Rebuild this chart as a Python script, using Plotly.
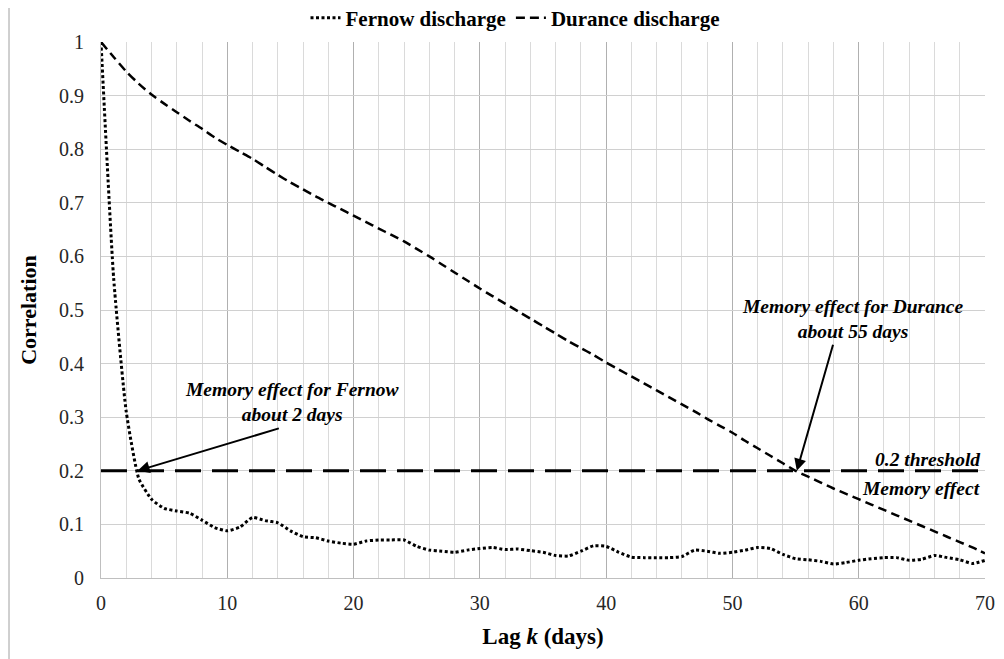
import plotly.graph_objects as go

lags = list(range(0, 71))
fernow = [1.0, 0.56, 0.31, 0.185, 0.147, 0.13, 0.125, 0.121, 0.108, 0.094,
          0.088, 0.095, 0.113, 0.107, 0.103, 0.088, 0.077, 0.075, 0.069, 0.065,
          0.063, 0.069, 0.071, 0.071, 0.071, 0.059, 0.052, 0.05, 0.048, 0.052,
          0.055, 0.057, 0.053, 0.054, 0.051, 0.048, 0.042, 0.041, 0.05, 0.06,
          0.059, 0.048, 0.039, 0.038, 0.038, 0.038, 0.04, 0.052, 0.05, 0.046,
          0.048, 0.052, 0.057, 0.055, 0.044, 0.036, 0.034, 0.031, 0.026, 0.029,
          0.033, 0.036, 0.038, 0.038, 0.033, 0.035, 0.042, 0.038, 0.034, 0.027,
          0.033]
durance = [1.0, 0.972, 0.945, 0.922, 0.902, 0.885, 0.869, 0.853, 0.838, 0.822,
           0.808, 0.795, 0.782, 0.767, 0.752, 0.738, 0.725, 0.712, 0.7, 0.688,
           0.676, 0.664, 0.652, 0.64, 0.628, 0.614, 0.6, 0.585, 0.57, 0.555,
           0.54, 0.526, 0.512, 0.498, 0.484, 0.47, 0.456, 0.442, 0.429, 0.416,
           0.402, 0.389, 0.376, 0.363, 0.35, 0.337, 0.324, 0.311, 0.297, 0.284,
           0.271, 0.256, 0.242, 0.228, 0.214, 0.2, 0.189, 0.178, 0.167, 0.157,
           0.147, 0.137, 0.127, 0.117, 0.107, 0.097, 0.087, 0.077, 0.067, 0.057,
           0.046]
threshold_x = [0, 70]
threshold_y = [0.2, 0.2]

FONT = "Liberation Serif"

fig = go.Figure()
fig.add_trace(go.Scatter(x=lags, y=fernow, mode="lines", name="<b>Fernow discharge</b>",
                         line=dict(color="black", width=3, dash="3px,2.5px",
                                   shape="spline", smoothing=0.5)))
fig.add_trace(go.Scatter(x=lags, y=durance, mode="lines", name="<b>Durance discharge</b>",
                         line=dict(color="black", width=2.5, dash="9px,5px",
                                   shape="spline", smoothing=0.8)))
fig.add_trace(go.Scatter(x=threshold_x, y=threshold_y, mode="lines", showlegend=False,
                         line=dict(color="black", width=3, dash="26px,11px")))

# page body has an 8px margin; design in screen coordinates
OFF = 8
W, H = 1004, 659
SL, SR, ST, SB = 101, 985, 42, 578          # plot area in screen px
L, T = SL - OFF, ST - OFF
pw, ph = SR - SL, SB - ST
R, B = W - L - pw, H - T - ph


def px(xs):
    return (xs - SL) / pw


def py(ys):
    return (SB - ys) / ph


ann_font = dict(family=FONT, size=19.5, color="black")
annotations = [
    dict(x=2.9, y=0.2, ax=14.2, ay=0.28, xref="x", yref="y", axref="x", ayref="y",
         text="", showarrow=True, arrowhead=2, arrowsize=1.2, arrowwidth=2,
         arrowcolor="black", standoff=0),
    dict(x=55.1, y=0.2, ax=58.0, ay=0.438, xref="x", yref="y", axref="x", ayref="y",
         text="", showarrow=True, arrowhead=2, arrowsize=1.2, arrowwidth=2,
         arrowcolor="black", standoff=0),
    dict(x=15.1, y=0.328, xref="x", yref="y", showarrow=False,
         text="<b><i>Memory effect for Fernow<br>about 2 days</i></b>", font=ann_font),
    dict(x=59.5, y=0.483, xref="x", yref="y", showarrow=False,
         text="<b><i>Memory effect for Durance<br>about 55 days</i></b>", font=ann_font),
    dict(x=69.8, y=0.222, xref="x", yref="y", showarrow=False, xanchor="right",
         text="<b><i>0.2 threshold</i></b>", font=ann_font),
    dict(x=69.8, y=0.167, xref="x", yref="y", showarrow=False, xanchor="right",
         text="<b><i>Memory effect</i></b>", font=ann_font),
]

fig.update_layout(
    width=W, height=H,
    margin=dict(l=L, r=R, t=T, b=B, autoexpand=False),
    paper_bgcolor="white", plot_bgcolor="white",
    font=dict(family=FONT, color="black"),
    showlegend=True,
    legend=dict(orientation="h", x=px(515), xanchor="center", y=py(18), yanchor="middle",
                font=dict(family=FONT, size=21, color="black"),
                bgcolor="rgba(0,0,0,0)", traceorder="normal"),
    annotations=annotations,
    shapes=[dict(type="rect", xref="paper", yref="paper",
                 x0=px(9), x1=px(1020), y0=py(680), y1=py(5),
                 line=dict(color="#a0a0a0", width=1), layer="below")],
)

fig.update_xaxes(
    range=[0, 70], dtick=10, tick0=0, showgrid=True, gridcolor="#b0b0b0", gridwidth=1,
    minor=dict(dtick=2, showgrid=True, gridcolor="#dadada", gridwidth=1),
    showline=True, linecolor="#bfbfbf", linewidth=1, zeroline=False, ticks="",
    tickfont=dict(family=FONT, size=20, color="#262626"), ticklabelstandoff=7,
    title=dict(text="<b>Lag <i>k</i> (days)</b>", font=dict(family=FONT, size=23, color="black"),
               standoff=14),
)
fig.update_yaxes(
    range=[0, 1], dtick=0.1, tick0=0, showgrid=True, gridcolor="#d0d0d0", gridwidth=1,
    showline=True, linecolor="#bfbfbf", linewidth=1, zeroline=False, ticks="",
    tickfont=dict(family=FONT, size=20, color="#262626"), ticklabelstandoff=12,
    title=dict(text="<b>Correlation</b>", font=dict(family=FONT, size=22, color="black"),
               standoff=16),
)

fig.write_html("out.html")
